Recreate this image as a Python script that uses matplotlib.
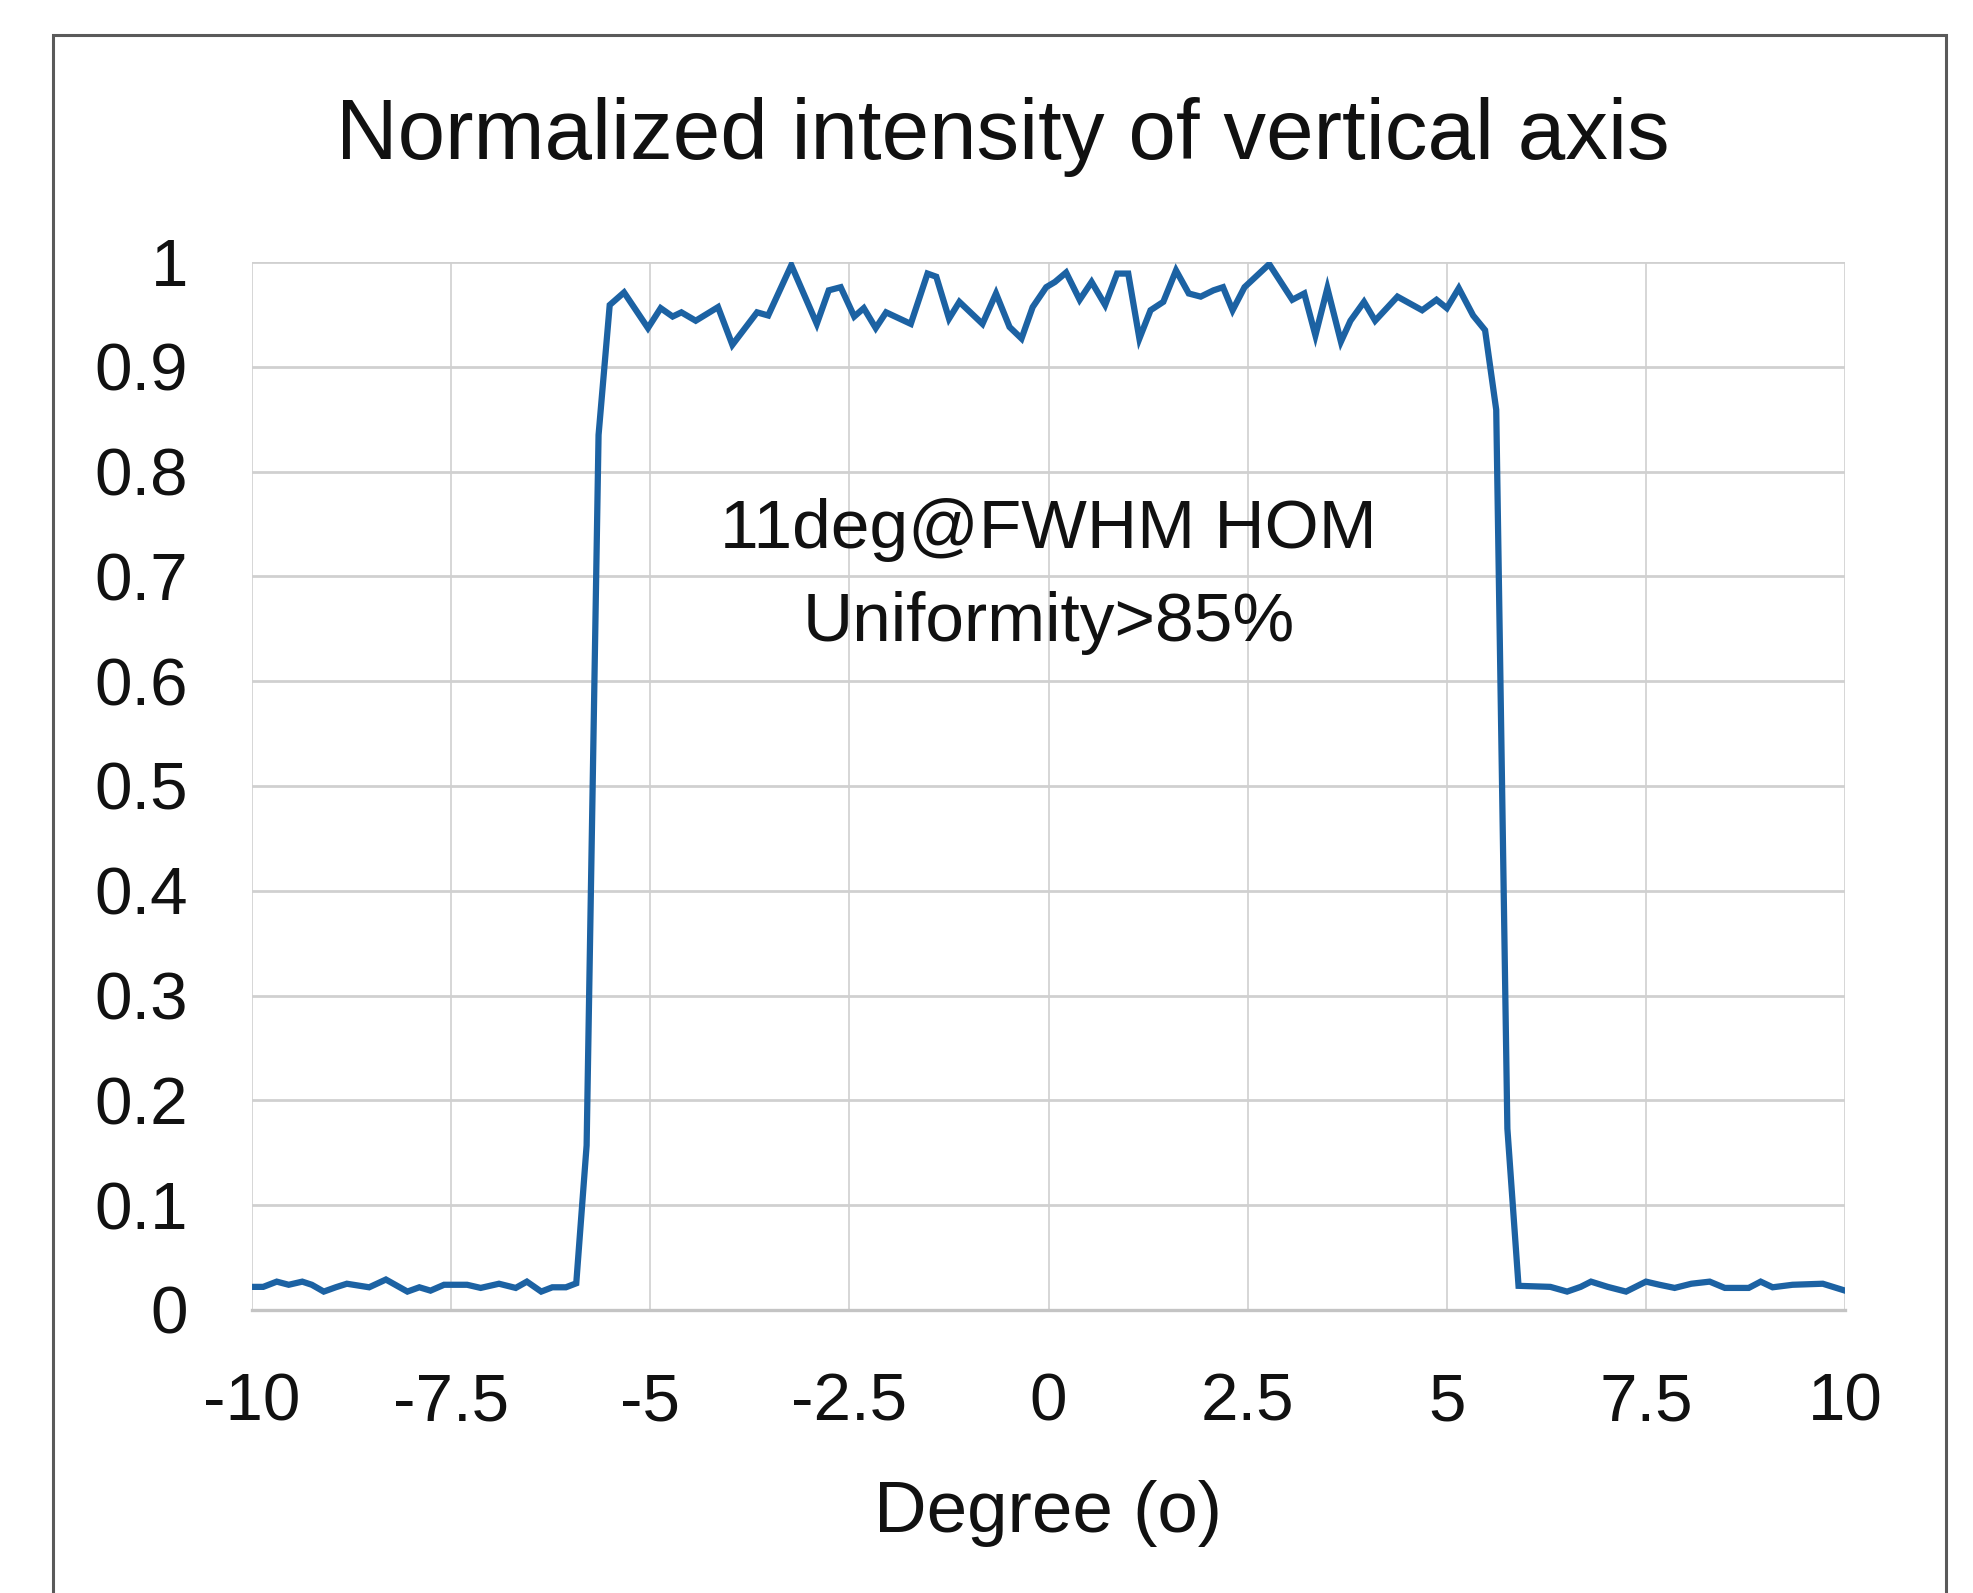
import matplotlib
matplotlib.use('Agg')
import matplotlib.pyplot as plt
from matplotlib.patches import Rectangle

plt.rcParams['font.family'] = ['Liberation Sans', 'DejaVu Sans']

# curve: degree / normalized intensity
degree = [-10, -9.86, -9.69, -9.54, -9.37, -9.25, -9.10, -8.95, -8.81, -8.53,
          -8.32, -8.05, -7.90, -7.76, -7.59, -7.30, -7.13, -6.90, -6.69, -6.55,
          -6.37, -6.23, -6.06, -5.93, -5.80, -5.65, -5.51, -5.33, -5.03, -4.87,
          -4.72, -4.61, -4.43, -4.15, -3.97, -3.66, -3.52, -3.23, -2.91, -2.76,
          -2.61, -2.44, -2.32, -2.17, -2.04, -1.73, -1.52, -1.41, -1.25, -1.12,
          -0.83, -0.66, -0.49, -0.34, -0.20, -0.03, 0.08, 0.22, 0.39, 0.54,
          0.71, 0.86, 1.00, 1.14, 1.28, 1.44, 1.60, 1.76, 1.91, 2.07,
          2.19, 2.31, 2.46, 2.77, 3.06, 3.21, 3.35, 3.50, 3.67, 3.79,
          3.96, 4.10, 4.38, 4.69, 4.87, 5.00, 5.15, 5.33, 5.48, 5.62,
          5.76, 5.90, 6.30, 6.51, 6.68, 6.81, 7.02, 7.25, 7.50, 7.67,
          7.86, 8.07, 8.30, 8.49, 8.79, 8.94, 9.09, 9.34, 9.72, 10.0]
intensity = [0.022, 0.022, 0.027, 0.024, 0.027, 0.024, 0.0175, 0.0216, 0.025, 0.0216,
             0.029, 0.0175, 0.0216, 0.0184, 0.024, 0.024, 0.021, 0.025, 0.021, 0.027,
             0.0175, 0.0216, 0.0216, 0.0254, 0.157, 0.835, 0.959, 0.971, 0.937, 0.956,
             0.948, 0.952, 0.944, 0.957, 0.921, 0.952, 0.949, 0.997, 0.941, 0.973,
             0.976, 0.948, 0.956, 0.937, 0.952, 0.941, 0.989, 0.986, 0.946, 0.962,
             0.941, 0.970, 0.938, 0.927, 0.957, 0.976, 0.981, 0.990, 0.964, 0.981,
             0.959, 0.989, 0.989, 0.927, 0.954, 0.962, 0.992, 0.970, 0.967, 0.973,
             0.976, 0.954, 0.976, 0.998, 0.964, 0.970, 0.930, 0.975, 0.924, 0.944,
             0.962, 0.944, 0.967, 0.954, 0.964, 0.956, 0.975, 0.949, 0.935, 0.859,
             0.173, 0.023, 0.022, 0.0175, 0.022, 0.027, 0.022, 0.0175, 0.027, 0.024,
             0.021, 0.025, 0.027, 0.021, 0.021, 0.027, 0.0216, 0.024, 0.025, 0.0184]

xticks = [-10, -7.5, -5, -2.5, 0, 2.5, 5, 7.5, 10]
xtick_labels = ['-10', '-7.5', '-5', '-2.5', '0', '2.5', '5', '7.5', '10']
yticks = [0, 0.1, 0.2, 0.3, 0.4, 0.5, 0.6, 0.7, 0.8, 0.9, 1]
ytick_labels = ['0', '0.1', '0.2', '0.3', '0.4', '0.5', '0.6', '0.7', '0.8', '0.9', '1']

fig = plt.figure(figsize=(19.74, 15.93), dpi=100)
fig.patch.set_facecolor('white')

# outer chart frame (bottom edge is cut off in the original)
fig.patches.append(Rectangle((0.0268, -0.02), 0.959, 0.998, transform=fig.transFigure,
                             fill=False, edgecolor='#5a5a5a', linewidth=2.2))

ax = fig.add_axes([0.1277, 0.1777, 0.807, 0.6578])
ax.plot(degree, intensity, color='#1c62a3', linewidth=4.5, solid_joinstyle='miter')

ax.set_xlim(-10, 10)
ax.set_ylim(0, 1)
ax.set_xticks(xticks)
ax.set_xticklabels(xtick_labels)
ax.set_yticks(yticks)
ax.set_yticklabels(ytick_labels)
ax.tick_params(axis='both', length=0, labelsize=48.5, colors='#111111')
ax.tick_params(axis='x', pad=45)
ax.tick_params(axis='y', pad=46)

for s in ax.spines.values():
    s.set_visible(False)
ax.grid(axis='y', color='#d0d0d0', linewidth=2.0)
ax.grid(axis='x', color='#d6d6d6', linewidth=1.4)
ax.axhline(0, color='#c4c4c4', linewidth=2.4, clip_on=False, zorder=1)
ax.set_axisbelow(True)

ax.text(0, 0.700, '11deg@FWHM HOM\nUniformity>85%', ha='center', va='center',
        fontsize=50, linespacing=1.58, color='#111111')

fig.text(0.508, 0.914, 'Normalized intensity of vertical axis', ha='center', va='center',
         fontsize=61.5, color='#111111')
fig.text(0.531, 0.050, 'Degree (o)', ha='center', va='center', fontsize=52.5, color='#111111')

fig.savefig('out.png', dpi=100, facecolor='white')
